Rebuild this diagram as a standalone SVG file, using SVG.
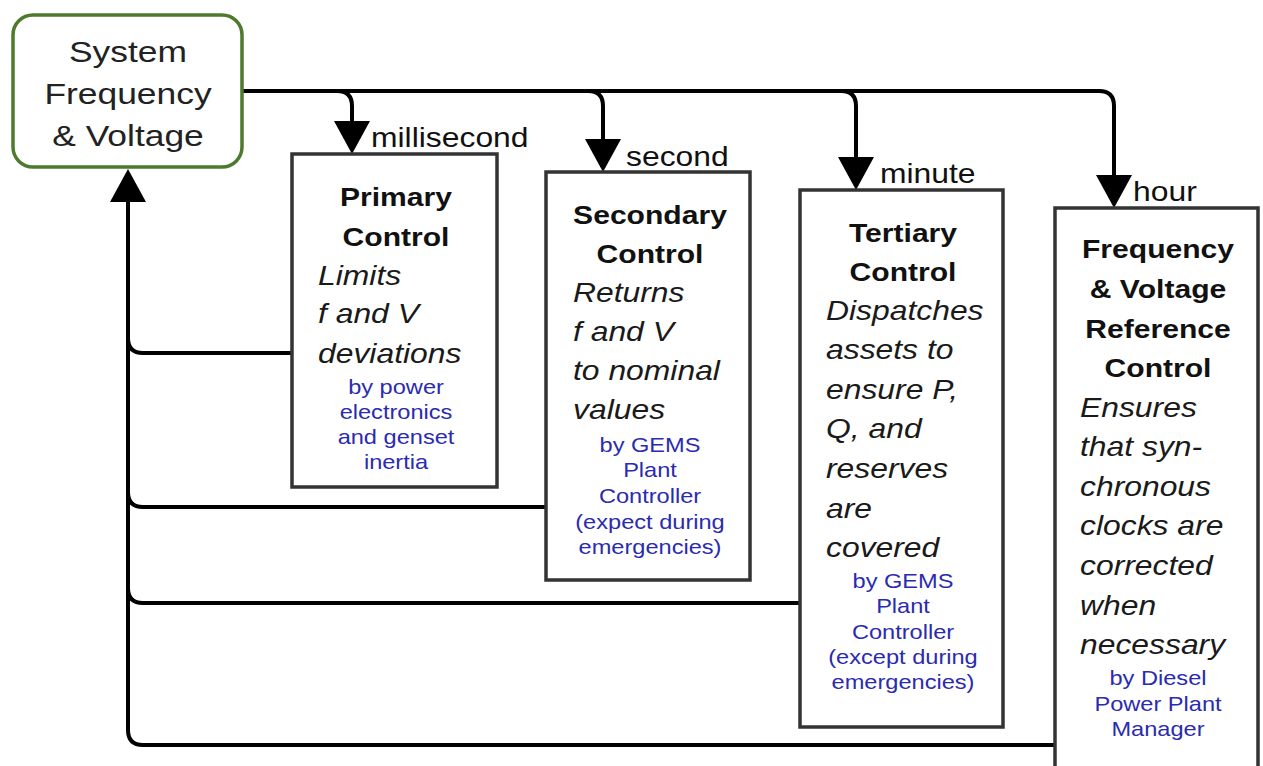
<svg xmlns="http://www.w3.org/2000/svg" width="1263" height="766" viewBox="0 0 1263 766">
<defs>
<style>
text { font-family: "Liberation Sans", Arial, sans-serif; }
.sys { font-size: 30px; fill: #222; text-anchor: middle; }
.lbl { font-size: 27px; fill: #111; }
.b { font-size: 25.5px; font-weight: bold; fill: #111; text-anchor: middle; }
.it { font-size: 27px; font-style: italic; fill: #1a1a1a; }
.by { font-size: 20px; fill: #2b2bb0; text-anchor: middle; }
.box { fill: #fff; stroke: #333; stroke-width: 3.5; }
.sysbox { fill: #fff; stroke: #4d7a2c; stroke-width: 3.5; }
.wire { fill: none; stroke: #000; stroke-width: 4; }
.arr { fill: none; stroke: #000; stroke-width: 4; marker-end: url(#ah); }
</style>
<marker id="ah" markerUnits="userSpaceOnUse" markerWidth="33" markerHeight="36" viewBox="0 0 33 36" refX="0" refY="18" orient="auto">
<path d="M0,0 L33,18 L0,36 z" fill="#000"/>
</marker>
</defs>
<rect width="1263" height="766" fill="#fff"/>

<g id="connectors">
<path class="wire" d="M243 91 H1099 Q1114 91 1114 106 V174"/>
<path class="arr" d="M337 91 Q352 91 352 106 V121"/>
<path class="arr" d="M588 91 Q603 91 603 106 V139"/>
<path class="arr" d="M841 91 Q856 91 856 106 V157"/>
<path class="arr" d="M1114 150 V175"/>
<path class="wire" d="M292 353 H143 Q128 353 128 338"/>
<path class="wire" d="M546 507 H143 Q128 507 128 492"/>
<path class="wire" d="M800 603 H143 Q128 603 128 588"/>
<path class="arr" d="M1055 745 H143 Q128 745 128 730 V202"/>
</g>

<g id="system">
<rect class="sysbox" x="13" y="15" width="229" height="152" rx="20"/>
<text class="sys" transform="translate(128,62) scale(1.18,1)">System</text>
<text class="sys" transform="translate(128,104) scale(1.18,1)">Frequency</text>
<text class="sys" transform="translate(128,146) scale(1.18,1)">&amp; Voltage</text>
</g>

<g id="label-millisecond"><text class="lbl" transform="translate(371,147) scale(1.18,1)">millisecond</text></g>
<g id="label-second"><text class="lbl" transform="translate(626,166) scale(1.18,1)">second</text></g>
<g id="label-minute"><text class="lbl" transform="translate(880,183) scale(1.18,1)">minute</text></g>
<g id="label-hour"><text class="lbl" transform="translate(1133,201) scale(1.18,1)">hour</text></g>

<g id="primary">
<rect class="box" x="292" y="154" width="205" height="333"/>
<text class="b" transform="translate(396,206) scale(1.18,1)">Primary</text>
<text class="b" transform="translate(396,246) scale(1.18,1)">Control</text>
<text class="it" transform="translate(318,285) scale(1.18,1)">Limits</text>
<text class="it" transform="translate(318,323) scale(1.18,1)">f and V</text>
<text class="it" transform="translate(318,363) scale(1.18,1)">deviations</text>
<text class="by" transform="translate(396,394) scale(1.18,1)">by power</text>
<text class="by" transform="translate(396,419) scale(1.18,1)">electronics</text>
<text class="by" transform="translate(396,444) scale(1.18,1)">and genset</text>
<text class="by" transform="translate(396,469) scale(1.18,1)">inertia</text>
</g>

<g id="secondary">
<rect class="box" x="546" y="172" width="204" height="408"/>
<text class="b" transform="translate(650,224) scale(1.18,1)">Secondary</text>
<text class="b" transform="translate(650,263) scale(1.18,1)">Control</text>
<text class="it" transform="translate(573,302) scale(1.18,1)">Returns</text>
<text class="it" transform="translate(573,341) scale(1.18,1)">f and V</text>
<text class="it" transform="translate(573,380) scale(1.18,1)">to nominal</text>
<text class="it" transform="translate(573,419) scale(1.18,1)">values</text>
<text class="by" transform="translate(650,452) scale(1.18,1)">by GEMS</text>
<text class="by" transform="translate(650,477) scale(1.18,1)">Plant</text>
<text class="by" transform="translate(650,503) scale(1.18,1)">Controller</text>
<text class="by" transform="translate(650,529) scale(1.18,1)">(expect during</text>
<text class="by" transform="translate(650,554) scale(1.18,1)">emergencies)</text>
</g>

<g id="tertiary">
<rect class="box" x="800" y="190" width="203" height="537"/>
<text class="b" transform="translate(903,242) scale(1.18,1)">Tertiary</text>
<text class="b" transform="translate(903,281) scale(1.18,1)">Control</text>
<text class="it" transform="translate(826,320) scale(1.18,1)">Dispatches</text>
<text class="it" transform="translate(826,359) scale(1.18,1)">assets to</text>
<text class="it" transform="translate(826,399) scale(1.18,1)">ensure P,</text>
<text class="it" transform="translate(826,438) scale(1.18,1)">Q, and</text>
<text class="it" transform="translate(826,478) scale(1.18,1)">reserves</text>
<text class="it" transform="translate(826,518) scale(1.18,1)">are</text>
<text class="it" transform="translate(826,557) scale(1.18,1)">covered</text>
<text class="by" transform="translate(903,588) scale(1.18,1)">by GEMS</text>
<text class="by" transform="translate(903,613) scale(1.18,1)">Plant</text>
<text class="by" transform="translate(903,639) scale(1.18,1)">Controller</text>
<text class="by" transform="translate(903,664) scale(1.18,1)">(except during</text>
<text class="by" transform="translate(903,689) scale(1.18,1)">emergencies)</text>
</g>

<g id="reference">
<rect class="box" x="1055" y="208" width="203" height="570"/>
<text class="b" transform="translate(1158,258) scale(1.18,1)">Frequency</text>
<text class="b" transform="translate(1158,298) scale(1.18,1)">&amp; Voltage</text>
<text class="b" transform="translate(1158,338) scale(1.18,1)">Reference</text>
<text class="b" transform="translate(1158,377) scale(1.18,1)">Control</text>
<text class="it" transform="translate(1080,417) scale(1.18,1)">Ensures</text>
<text class="it" transform="translate(1080,456) scale(1.18,1)">that syn-</text>
<text class="it" transform="translate(1080,496) scale(1.18,1)">chronous</text>
<text class="it" transform="translate(1080,535) scale(1.18,1)">clocks are</text>
<text class="it" transform="translate(1080,575) scale(1.18,1)">corrected</text>
<text class="it" transform="translate(1080,615) scale(1.18,1)">when</text>
<text class="it" transform="translate(1080,654) scale(1.18,1)">necessary</text>
<text class="by" transform="translate(1158,685) scale(1.18,1)">by Diesel</text>
<text class="by" transform="translate(1158,711) scale(1.18,1)">Power Plant</text>
<text class="by" transform="translate(1158,736) scale(1.18,1)">Manager</text>
</g>
</svg>
